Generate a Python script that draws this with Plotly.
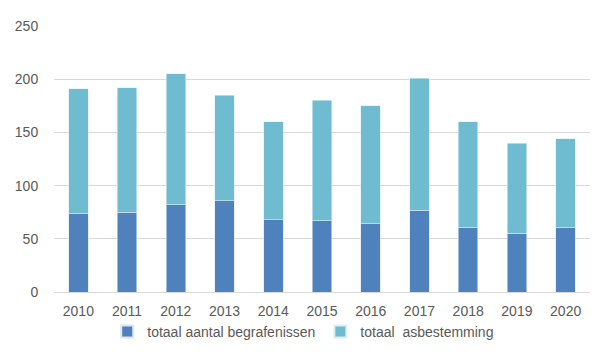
import plotly.graph_objects as go

years = ["2010", "2011", "2012", "2013", "2014", "2015", "2016", "2017", "2018", "2019", "2020"]
begrafenissen = [74, 75, 82, 86, 68, 67, 64, 77, 61, 55, 61]
asbestemming = [117, 117, 123, 99, 92, 113, 111, 124, 99, 85, 83]
y_ticks = [0, 50, 100, 150, 200, 250]

FONT = "Liberation Sans"
fig = go.Figure()
fig.add_trace(go.Bar(x=years, y=begrafenissen, name="totaal aantal begrafenissen",
                     marker=dict(color="#4F81BD", line=dict(color="#DCE6F2", width=0.6))))
fig.add_trace(go.Bar(x=years, y=asbestemming, name="totaal\u00a0 asbestemming",
                     marker=dict(color="#6FBBD0", line=dict(color="#DCEFF5", width=0.6))))

fig.update_layout(
    barmode="stack",
    bargap=0.6,
    width=597, height=353,
    margin=dict(l=46, r=15, t=18, b=69),
    paper_bgcolor="white", plot_bgcolor="white",
    font=dict(family=FONT, size=14, color="#595959"),
    legend=dict(orientation="h", x=0.465, xanchor="center", y=-0.09, yanchor="top",
                traceorder="normal", bgcolor="rgba(0,0,0,0)",
                font=dict(size=14, color="#595959"), itemwidth=30, tracegroupgap=0,
                itemsizing="constant"),
    xaxis=dict(showgrid=False, showline=True, linecolor="#D9D9D9", linewidth=1,
               automargin=False,
               ticks="outside", ticklen=6, tickcolor="rgba(0,0,0,0)",
               tickfont=dict(size=14, color="#595959")),
    yaxis=dict(range=[0, 250], tickvals=y_ticks, showgrid=True, gridcolor="#D9D9D9",
               gridwidth=1, zeroline=False, ticks="outside", ticklen=12,
               automargin=False,
               tickcolor="rgba(0,0,0,0)",
               tickfont=dict(size=14, color="#595959")),
    showlegend=True,
)
fig.write_html("out.html")
